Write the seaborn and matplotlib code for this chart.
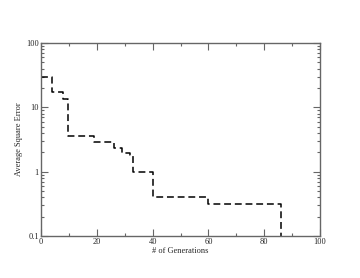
"""
Average square error vs number of generations (step plot)
"""

import matplotlib
matplotlib.use("Agg")
import matplotlib.pyplot as plt
import seaborn as sns
import pandas as pd
from matplotlib.ticker import MultipleLocator, LogLocator, FixedFormatter, FixedLocator

# step values
generations = [0, 4, 8, 9.5, 19, 26, 29, 32, 33, 40, 60, 86]
avg_sq_error = [30, 17.5, 13.5, 3.6, 2.85, 2.3, 1.95, 1.8, 1.0, 0.4, 0.32, 0.1]

y_ticks = [0.1, 1, 10, 100]
y_tick_labels = ["0.1", "1", "10", "100"]

df = pd.DataFrame({"gen": generations, "err": avg_sq_error})

sns.set_style("ticks")
plt.rcParams["font.family"] = ["Liberation Serif", "DejaVu Serif"]

fig = plt.figure(figsize=(3.6, 2.78), dpi=100)
ax = fig.add_axes([0.114, 0.151, 0.775, 0.694])

sns.lineplot(data=df, x="gen", y="err", drawstyle="steps-post",
             color="black", linewidth=1.1, linestyle=(0, (4.5, 2.5)), ax=ax)

ax.set_yscale("log")
ax.set_xlim(0, 100)
ax.set_ylim(0.1, 100)

ax.xaxis.set_major_locator(MultipleLocator(20))
ax.xaxis.set_minor_locator(MultipleLocator(10))
ax.yaxis.set_major_locator(FixedLocator(y_ticks))
ax.yaxis.set_major_formatter(FixedFormatter(y_tick_labels))
ax.yaxis.set_minor_locator(LogLocator(base=10, subs=range(2, 10)))

axis_grey = "#666666"
for s in ax.spines.values():
    s.set_color(axis_grey)
    s.set_linewidth(1.0)
ax.tick_params(which="both", direction="in", top=True, right=True,
               color=axis_grey, labelsize=6, pad=1.5)
ax.tick_params(which="major", length=5, width=0.8)
ax.tick_params(which="minor", length=2.5, width=0.8)

ax.set_xlabel("# of Generations", fontsize=6, labelpad=0.5)
ax.set_ylabel("Average Square Error", fontsize=6, labelpad=2)

fig.savefig("out.png", dpi=100)
plt.close(fig)
